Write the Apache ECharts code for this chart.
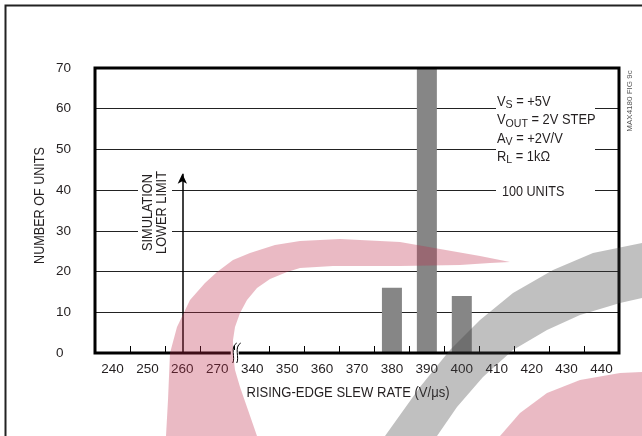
<!DOCTYPE html>
<html><head><meta charset="utf-8">
<script src="https://cdn.jsdelivr.net/npm/echarts@6/dist/echarts.min.js"></script>
<style>html,body{margin:0;padding:0;background:#fff}#c{width:642px;height:436px}</style>
</head><body><div id="c"></div>
<script>
// ---- data ----
const categories = ['240','250','260','270','340','350','360','370','380','390','400','410','420','430','440'];
const units = [0,0,0,0,0,0,0,0,16,70,14,0,0,0,0];
const yMin = 0, yMax = 70, yStep = 10;
const limitCategory = '260';
const limitArrowTop = 44;
const breakAfter = '270', breakBefore = '340';
const conditionLines = [
  ['V','S',' = +5V'],
  ['V','OUT',' = 2V STEP'],
  ['A','V',' = +2V/V'],
  ['R','L',' = 1kΩ']
];
const unitsNote = '100 UNITS';
const xTitle = 'RISING-EDGE SLEW RATE (V/μs)';
const yTitle = 'NUMBER OF UNITS';
const limitText = 'SIMULATION\nLOWER LIMIT';
const figId = 'MAX4180 FIG 9c';

const FONT = "'Liberation Sans',Arial,Helvetica,sans-serif";
const TXT = '#231f20';
const FS = 14;

const chart = echarts.init(document.getElementById('c'), null, {renderer:'canvas'});
chart.setOption({
  animation: false,
  backgroundColor: '#fff',
  grid: {left: 95, top: 68, width: 524, height: 285, show: true, borderColor: '#000', borderWidth: 3, backgroundColor: 'transparent', z: 3},
  xAxis: {
    type: 'category', data: categories, boundaryGap: true,
    axisLine: {show: false},
    axisTick: {show: true, inside: true, length: 7, alignWithLabel: false, lineStyle: {color: '#000', width: 1}},
    axisLabel: {color: TXT, fontFamily: FONT, fontSize: 13.5, margin: 9},
    splitLine: {show: false}
  },
  yAxis: {
    type: 'value', min: yMin, max: yMax, interval: yStep,
    axisLine: {show: false}, axisTick: {show: false},
    axisLabel: {color: TXT, fontFamily: FONT, fontSize: 13.5, align: 'left', margin: 39},
    splitLine: {show: true, lineStyle: {color: '#222', width: 1}}
  },
  series: [{
    type: 'bar', data: units, barWidth: 20,
    itemStyle: {color: '#868686'},
    markLine: {
      silent: true, symbol: ['none','arrow'], symbolSize: [7,10],
      lineStyle: {color: '#000', width: 1.5, type: 'solid'},
      label: {show: false},
      data: [[{coord: [limitCategory, 0]}, {coord: [limitCategory, limitArrowTop]}]]
    }
  }]
});

const xa = chart.convertToPixel({xAxisIndex: 0}, breakAfter);
const xb = chart.convertToPixel({xAxisIndex: 0}, breakBefore);
const bx = (xa + xb) / 2;
const by = chart.convertToPixel({yAxisIndex: 0}, 0);

const rich = {
  n: {fontFamily: FONT, fontSize: FS, fill: TXT, lineHeight: 18.3},
  s: {fontFamily: FONT, fontSize: 11.5, fill: TXT, lineHeight: 11, verticalAlign: 'bottom'}
};
const condText = conditionLines.map(l => '{n|' + l[0] + '}{s|' + l[1] + '}{n|' + l[2] + '}').join('\n');

const pink = 'rgba(190,40,70,0.32)';
const grey = 'rgba(64,64,64,0.33)';

const graphics = [
  // outer frame
  {type: 'polyline', shape: {points: [[5.5,436],[5.5,5.5],[642,5.5]]}, style: {stroke: '#222', lineWidth: 2, fill: null}, z: 5},
  // white knockouts behind annotations
  {type: 'rect', shape: {x: 496, y: 94, width: 99, height: 106}, style: {fill: '#fff'}, z: 4},
  {type: 'rect', shape: {x: 138, y: 172, width: 34, height: 82}, style: {fill: '#fff'}, z: 4},
  {type: 'text', x: 497, y: 93, scaleX: 0.92, style: {text: condText, rich: rich, align: 'left', verticalAlign: 'top'}, z: 6},
  {type: 'text', x: 502, y: 192, scaleX: 0.9, style: {text: unitsNote, fontFamily: FONT, fontSize: FS, fill: TXT, align: 'left', verticalAlign: 'middle'}, z: 6},
  {type: 'text', x: 155, y: 212.5, rotation: Math.PI/2, scaleX: 0.85, style: {text: limitText, fontFamily: FONT, fontSize: 15, lineHeight: 14.5, fill: TXT, align: 'center', verticalAlign: 'middle'}, z: 6},
  {type: 'text', x: 40, y: 205.5, rotation: Math.PI/2, scaleX: 0.84, style: {text: yTitle, fontFamily: FONT, fontSize: 15, fill: TXT, align: 'center', verticalAlign: 'middle'}, z: 6},
  {type: 'text', x: 348, y: 393, scaleX: 0.87, style: {text: xTitle, fontFamily: FONT, fontSize: 15, fill: TXT, align: 'center', verticalAlign: 'middle'}, z: 6},
  {type: 'text', x: 630, y: 101, rotation: Math.PI/2, style: {text: figId, fontFamily: FONT, fontSize: 8, fill: '#555', align: 'center', verticalAlign: 'middle'}, z: 6},
  // axis break
  {type: 'rect', shape: {x: bx - 4, y: by - 3, width: 8, height: 6}, style: {fill: '#fff'}, z: 7},
  {type: 'bezierCurve', shape: {x1: bx + 2, y1: by - 10, cpx1: bx - 5, cpy1: by - 6, cpx2: bx + 1, cpy2: by + 5, x2: bx - 2, y2: by + 10}, style: {stroke: '#000', lineWidth: 1, fill: null}, z: 8},
  {type: 'bezierCurve', shape: {x1: bx + 6, y1: by - 10, cpx1: bx - 1, cpy1: by - 6, cpx2: bx + 5, cpy2: by + 5, x2: bx + 2, y2: by + 10}, style: {stroke: '#000', lineWidth: 1, fill: null}, z: 8},
  // watermark
  {type: 'polygon', silent: true, shape: {points: [[166,436],[168,400],[170,353],[177,327],[190,300],[205,283],[217,272],[233,260],[250,253],[275,245],[300,241],[340,239],[400,242],[440,249],[480,256],[510,262],[490,263],[460,265],[400,266],[333,266],[300,268],[287,272],[270,279],[257,288],[247,300],[240,313],[235,327],[233,340],[233,353],[235,370],[240,387],[248,410],[257,436]]}, style: {fill: pink}, z: 100},
  {type: 'polygon', silent: true, shape: {points: [[385,436],[420,387],[450,350],[480,320],[513,293],[553,270],[593,253],[642,243],[642,298],[620,303],[580,315],[547,330],[513,350],[483,377],[457,407],[437,436]]}, style: {fill: grey}, z: 100},
  {type: 'polygon', silent: true, shape: {points: [[500,436],[520,413],[547,393],[580,380],[620,373],[642,372],[642,436]]}, style: {fill: pink}, z: 100}
];
chart.setOption({graphic: graphics});
</script></body></html>
